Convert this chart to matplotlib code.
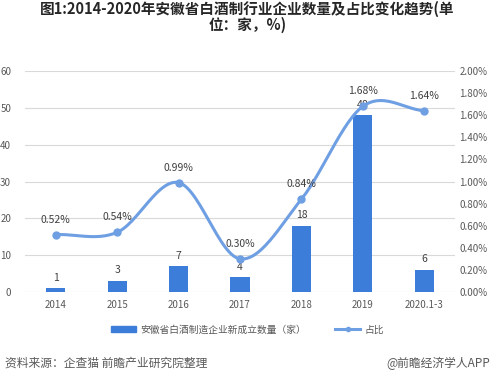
import numpy as np
import matplotlib.pyplot as plt

plt.rcParams['font.family'] = ['Noto Sans CJK SC', 'DejaVu Sans']

categories = ['2014', '2015', '2016', '2017', '2018', '2019', '2020.1-3']
new_firms = [1, 3, 7, 4, 18, 48, 6]
share_pct = [0.52, 0.54, 0.99, 0.30, 0.84, 1.68, 1.64]

bar_color = '#3C7DDA'
line_color = '#6F9FE3'
text_color = '#404040'
tick_color = '#595959'


def smooth(x, y, n=30):
    # Catmull-Rom style smoothing like Excel's smoothed line
    x = np.asarray(x, float)
    y = np.asarray(y, float)
    px = np.concatenate([[2 * x[0] - x[1]], x, [2 * x[-1] - x[-2]]])
    py = np.concatenate([[2 * y[0] - y[1]], y, [2 * y[-1] - y[-2]]])
    xs, ys = [], []
    for i in range(1, len(px) - 2):
        t = np.linspace(0, 1, n)
        p0, p1, p2, p3 = (np.array([px[j], py[j]]) for j in range(i - 1, i + 3))
        c1 = p1 + (p2 - p0) / 6
        c2 = p2 - (p3 - p1) / 6
        pts = ((1 - t) ** 3)[:, None] * p1 + (3 * (1 - t) ** 2 * t)[:, None] * c1 \
            + (3 * (1 - t) * t ** 2)[:, None] * c2 + (t ** 3)[:, None] * p2
        xs.extend(pts[:, 0])
        ys.extend(pts[:, 1])
    return np.array(xs), np.array(ys)


fig = plt.figure(figsize=(4.95, 3.83), dpi=100)
ax = fig.add_axes([0.0505, 0.2376, 0.8687, 0.577])
x = np.arange(len(categories))

ax.bar(x, new_firms, width=0.31, color=bar_color, zorder=2)
ax.set_ylim(0, 60)
ax.set_yticks(range(0, 61, 10))
ax.set_xlim(-0.5, len(categories) - 0.5)
ax.set_xticks(x)
ax.set_xticklabels(categories)
ax.grid(axis='y', color='#D9D9D9', linewidth=0.8, zorder=0)
for s in ax.spines.values():
    s.set_visible(False)
ax.tick_params(length=0, labelsize=7, colors=tick_color, pad=6)
ax.tick_params(axis='y', pad=10)
for xi, v in zip(x, new_firms):
    ax.text(xi, v + 1.5, str(v), ha='center', va='bottom', fontsize=7.5, color=text_color, zorder=5)

ax2 = ax.twinx()
ax2.set_ylim(0, 2.0)
ax2.set_yticks(np.arange(0, 2.01, 0.2))
ax2.set_yticklabels([f'{v:.2f}%' for v in np.arange(0, 2.01, 0.2)])
for s in ax2.spines.values():
    s.set_visible(False)
ax2.tick_params(length=0, labelsize=7, colors=tick_color, pad=3)
sx, sy = smooth(x, share_pct)
ax2.plot(sx, sy, color=line_color, linewidth=2.2, zorder=3)
ax2.plot(x, share_pct, 'o', color=line_color, markersize=5, zorder=4)
for xi, v in zip(x, share_pct):
    ax2.text(xi, v + 0.09, f'{v:.2f}%', ha='center', va='bottom', fontsize=7.5, color=text_color, zorder=5)

fig.text(0.5, 0.955, '图1:2014-2020年安徽省白酒制行业企业数量及占比变化趋势(单\n位：家，%)',
         ha='center', va='center', fontsize=10.5, fontweight='bold', color='#262626', linespacing=1.0)

h1 = plt.Rectangle((0, 0), 1, 1, color=bar_color)
h2, = ax2.plot([], [], '-o', color=line_color, linewidth=2.2, markersize=3)
fig.legend([h1, h2], ['安徽省白酒制造企业新成立数量（家）', '占比'], loc='center',
           bbox_to_anchor=(0.5, 0.14), ncol=2, frameon=False, fontsize=7,
           labelcolor=tick_color, handlelength=2.6, handleheight=0.5, columnspacing=3,
           handletextpad=0.4)

fig.text(0.01, 0.052, '资料来源：企查猫 前瞻产业研究院整理', ha='left', va='center', fontsize=8.5, color='#595959')
fig.text(0.99, 0.052, '@前瞻经济学人APP', ha='right', va='center', fontsize=8.5, color='#595959')

fig.savefig('out.png', dpi=100)
